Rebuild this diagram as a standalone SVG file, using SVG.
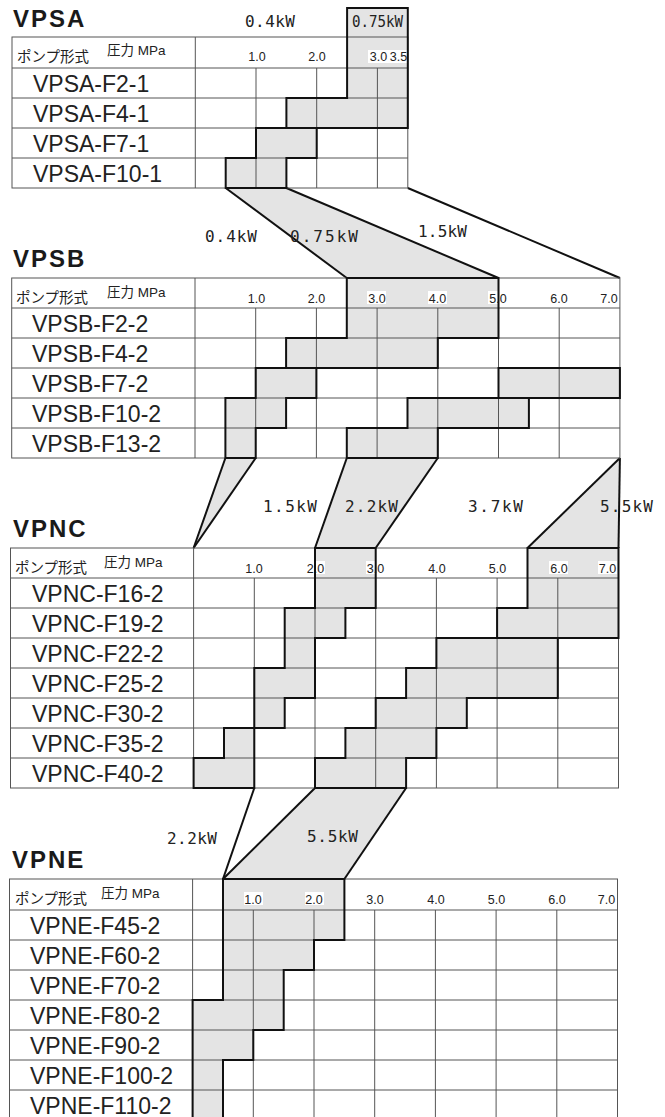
<svg xmlns="http://www.w3.org/2000/svg" width="665" height="1117" viewBox="0 0 665 1117">
<style>
.bg{fill:#ffffff}
.shade{fill:#e4e4e4;stroke:none}
.grid{stroke:#555;stroke-width:1;fill:none}
.thick{stroke:#111;stroke-width:2;fill:none;stroke-linejoin:miter}
.wb{fill:#ffffff}
.title{font-family:"Liberation Sans",Arial,sans-serif;font-weight:bold;font-size:24px;letter-spacing:2px;fill:#1a1a1a}
.row{font-family:"Liberation Sans",Arial,sans-serif;font-size:23px;fill:#222}
.hd{font-family:"Noto Sans CJK JP",sans-serif;font-size:14.5px;fill:#222}
.mpa{font-family:"Liberation Sans","Noto Sans CJK JP",sans-serif;font-size:13.5px;fill:#222}
.num{font-family:"Liberation Sans",Arial,sans-serif;font-size:12.5px;text-anchor:middle;fill:#222}
.kw{font-family:"DejaVu Sans Mono","Liberation Mono",monospace;font-size:16px;fill:#222}
</style>
<rect class="bg" x="0" y="0" width="665" height="1117"/>

<g id="connectors">
  <polygon class="shade" points="225.7,188 286.4,188 498.5,278 346.8,278"/>
  <polygon class="shade" points="225.4,458 255.7,458 193.6,548"/>
  <polygon class="shade" points="346.8,458 437.8,458 375.7,548 315,548"/>
  <polygon class="shade" points="619.9,458 618.5,548 527.5,548"/>
  <polygon class="shade" points="315,788 406.1,788 344.4,879 223,879"/>
  <g class="thick">
    <line x1="225.7" y1="188" x2="346.8" y2="278"/>
    <line x1="286.4" y1="188" x2="498.5" y2="278"/>
    <line x1="407.8" y1="188" x2="619.9" y2="278"/>
    <line x1="225.4" y1="458" x2="193.6" y2="548"/>
    <line x1="255.7" y1="458" x2="193.6" y2="548"/>
    <line x1="346.8" y1="458" x2="315" y2="548"/>
    <line x1="437.8" y1="458" x2="375.7" y2="548"/>
    <line x1="619.9" y1="458" x2="527.5" y2="548"/>
    <line x1="619.9" y1="458" x2="618.5" y2="548"/>
    <line x1="254.3" y1="788" x2="223" y2="879"/>
    <line x1="315" y1="788" x2="223" y2="879"/>
    <line x1="406.1" y1="788" x2="344.4" y2="879"/>
  </g>
</g>

<g id="vpsa">
  <path class="shade" d="M347.1,8 H407.8 V128 H286.4 V98 H347.1 Z"/>
  <path class="shade" d="M256,128 H316.7 V158 H286.4 V188 H225.7 V158 H256 Z"/>
  <rect class="grid" x="12" y="37" width="395.8" height="151"/>
  <path class="grid" d="M12,68 H407.8 M12,98 H407.8 M12,128 H407.8 M12,158 H407.8 M195.3,37 V188 M256,68 V188 M316.7,68 V188 M377.4,68 V188"/>
  <rect class="wb" x="247" y="50" width="19" height="13"/>
  <rect class="wb" x="307" y="50" width="19" height="13"/>
  <rect class="wb" x="368" y="50" width="39" height="13"/>
  <text class="num" x="257" y="61">1.0</text>
  <text class="num" x="317" y="61">2.0</text>
  <text class="num" x="378.5" y="61">3.0</text>
  <text class="num" x="398.5" y="61">3.5</text>
  <path class="thick" d="M347.1,8 H407.8 V128 H286.4 V98 H347.1 Z"/>
  <path class="thick" d="M256,128 H316.7 V158 H286.4 V188 H225.7 V158 H256 Z"/>
  <text class="title" x="13" y="27">VPSA</text>
  <text class="kw" x="245" y="27" textLength="50" lengthAdjust="spacing">0.4kW</text>
  <text class="kw" x="352" y="27" style="font-size:15px" textLength="51" lengthAdjust="spacingAndGlyphs">0.75kW</text>
  <text class="hd" x="17" y="62">ポンプ形式</text>
  <text class="mpa" x="107" y="55">圧力 MPa</text>
  <text class="row" x="33" y="91.5">VPSA-F2-1</text>
  <text class="row" x="33" y="121.5">VPSA-F4-1</text>
  <text class="row" x="33" y="151.5">VPSA-F7-1</text>
  <text class="row" x="33" y="181.5">VPSA-F10-1</text>
</g>

<g id="vpsb">
  <path class="shade" d="M346.8,278 H498.5 V338 H437.8 V368 H286.1 V338 H346.8 Z"/>
  <path class="shade" d="M255.7,368 H316.4 V398 H286.1 V428 H255.7 V458 H225.4 V398 H255.7 Z"/>
  <path class="shade" d="M498.5,368 H619.9 V398 H498.5 Z"/>
  <path class="shade" d="M407.5,398 H528.9 V428 H437.8 V458 H346.8 V428 H407.5 Z"/>
  <rect class="grid" x="11.7" y="278" width="608.2" height="180"/>
  <path class="grid" d="M11.7,308 H619.9 M11.7,338 H619.9 M11.7,368 H619.9 M11.7,398 H619.9 M11.7,428 H619.9 M195,278 V458 M255.7,308 V458 M316.4,308 V458 M377.1,308 V458 M437.8,308 V458 M498.5,308 V458 M559.2,308 V458"/>
  <rect class="wb" x="247" y="291" width="19" height="13"/>
  <rect class="wb" x="307" y="291" width="19" height="13"/>
  <rect class="wb" x="367" y="291" width="19" height="13"/>
  <rect class="wb" x="428" y="291" width="19" height="13"/>
  <rect class="wb" x="488" y="291" width="19" height="13"/>
  <rect class="wb" x="549" y="291" width="19" height="13"/>
  <rect class="wb" x="599" y="291" width="19" height="13"/>
  <text class="num" x="256.5" y="302.5">1.0</text>
  <text class="num" x="316.5" y="302.5">2.0</text>
  <text class="num" x="377" y="302.5">3.0</text>
  <text class="num" x="437.5" y="302.5">4.0</text>
  <text class="num" x="498" y="302.5">5.0</text>
  <text class="num" x="559" y="302.5">6.0</text>
  <text class="num" x="609" y="302.5">7.0</text>
  <path class="thick" d="M346.8,278 H498.5 V338 H437.8 V368 H286.1 V338 H346.8 Z"/>
  <path class="thick" d="M255.7,368 H316.4 V398 H286.1 V428 H255.7 V458 H225.4 V398 H255.7 Z"/>
  <path class="thick" d="M498.5,368 H619.9 V398 H498.5 Z"/>
  <path class="thick" d="M407.5,398 H528.9 V428 H437.8 V458 H346.8 V428 H407.5 Z"/>
  <text class="title" x="13" y="267">VPSB</text>
  <text class="kw" x="205" y="242" textLength="52" lengthAdjust="spacing">0.4kW</text>
  <text class="kw" x="290" y="242" textLength="68" lengthAdjust="spacing">0.75kW</text>
  <text class="kw" x="418" y="237" textLength="49" lengthAdjust="spacing">1.5kW</text>
  <text class="hd" x="16" y="303">ポンプ形式</text>
  <text class="mpa" x="107" y="296.5">圧力 MPa</text>
  <text class="row" x="32" y="331.5">VPSB-F2-2</text>
  <text class="row" x="32" y="361.5">VPSB-F4-2</text>
  <text class="row" x="32" y="391.5">VPSB-F7-2</text>
  <text class="row" x="32" y="421.5">VPSB-F10-2</text>
  <text class="row" x="32" y="451.5">VPSB-F13-2</text>
</g>

<g id="vpnc">
  <path class="shade" d="M315,548 H375.7 V608 H345.4 V638 H315 V698 H284.7 V728 H254.3 V668 H284.7 V608 H315 Z"/>
  <path class="shade" d="M224,728 H254.3 V788 H193.6 V758 H224 Z"/>
  <path class="shade" d="M436.4,638 H557.8 V698 H466.8 V728 H436.4 V758 H406.1 V788 H315 V758 H345.4 V728 H375.7 V698 H406.1 V668 H436.4 Z"/>
  <path class="shade" d="M527.5,548 H618.5 V638 H497.1 V608 H527.5 Z"/>
  <rect class="grid" x="10.5" y="548" width="608" height="240"/>
  <path class="grid" d="M10.5,578 H618.5 M10.5,608 H618.5 M10.5,638 H618.5 M10.5,668 H618.5 M10.5,698 H618.5 M10.5,728 H618.5 M10.5,758 H618.5 M193.6,548 V788 M254.3,578 V788 M315,578 V788 M375.7,578 V788 M436.4,578 V788 M497.1,578 V788 M557.8,578 V788"/>
  <rect class="wb" x="245" y="561" width="19" height="13"/>
  <rect class="wb" x="306" y="561" width="19" height="13"/>
  <rect class="wb" x="366" y="561" width="19" height="13"/>
  <rect class="wb" x="427" y="561" width="19" height="13"/>
  <rect class="wb" x="488" y="561" width="19" height="13"/>
  <rect class="wb" x="549" y="561" width="19" height="13"/>
  <rect class="wb" x="598" y="561" width="19" height="13"/>
  <text class="num" x="254" y="573">1.0</text>
  <text class="num" x="315.5" y="573">2.0</text>
  <text class="num" x="375.5" y="573">3.0</text>
  <text class="num" x="437" y="573">4.0</text>
  <text class="num" x="497.5" y="573">5.0</text>
  <text class="num" x="559" y="573">6.0</text>
  <text class="num" x="607.5" y="573">7.0</text>
  <path class="thick" d="M315,548 H375.7 V608 H345.4 V638 H315 V698 H284.7 V728 H254.3 V668 H284.7 V608 H315 Z"/>
  <path class="thick" d="M224,728 H254.3 V788 H193.6 V758 H224 Z"/>
  <path class="thick" d="M436.4,638 H557.8 V698 H466.8 V728 H436.4 V758 H406.1 V788 H315 V758 H345.4 V728 H375.7 V698 H406.1 V668 H436.4 Z"/>
  <path class="thick" d="M527.5,548 H618.5 V638 H497.1 V608 H527.5 Z"/>
  <text class="title" x="13" y="537">VPNC</text>
  <text class="kw" x="263" y="512" textLength="54" lengthAdjust="spacing">1.5kW</text>
  <text class="kw" x="345" y="512" textLength="53" lengthAdjust="spacing">2.2kW</text>
  <text class="kw" x="468" y="512" textLength="55" lengthAdjust="spacing">3.7kW</text>
  <text class="kw" x="600" y="512" textLength="53" lengthAdjust="spacing">5.5kW</text>
  <text class="hd" x="15" y="573">ポンプ形式</text>
  <text class="mpa" x="104" y="566.5">圧力 MPa</text>
  <text class="row" x="32" y="601.5">VPNC-F16-2</text>
  <text class="row" x="32" y="631.5">VPNC-F19-2</text>
  <text class="row" x="32" y="661.5">VPNC-F22-2</text>
  <text class="row" x="32" y="691.5">VPNC-F25-2</text>
  <text class="row" x="32" y="721.5">VPNC-F30-2</text>
  <text class="row" x="32" y="751.5">VPNC-F35-2</text>
  <text class="row" x="32" y="781.5">VPNC-F40-2</text>
</g>

<g id="vpne">
  <path class="shade" d="M223,879 H344.4 V940 H314 V970 H283.7 V1030 H253.3 V1060 H223 V1120 H192.6 V1000 H223 Z"/>
  <rect class="grid" x="9.5" y="879" width="608" height="241"/>
  <path class="grid" d="M9.5,910 H617.5 M9.5,940 H617.5 M9.5,970 H617.5 M9.5,1000 H617.5 M9.5,1030 H617.5 M9.5,1060 H617.5 M9.5,1090 H617.5 M192.6,879 V1120 M253.3,910 V1120 M314,910 V1120 M374.7,910 V1120 M435.4,910 V1120 M496.1,910 V1120 M556.8,910 V1120"/>
  <rect class="wb" x="244" y="892" width="19" height="13"/>
  <rect class="wb" x="305" y="892" width="19" height="13"/>
  <rect class="wb" x="366" y="892" width="19" height="13"/>
  <rect class="wb" x="427" y="892" width="19" height="13"/>
  <rect class="wb" x="487" y="892" width="19" height="13"/>
  <rect class="wb" x="548" y="892" width="19" height="13"/>
  <rect class="wb" x="597" y="892" width="19" height="13"/>
  <text class="num" x="253" y="904">1.0</text>
  <text class="num" x="314" y="904">2.0</text>
  <text class="num" x="375" y="904">3.0</text>
  <text class="num" x="436" y="904">4.0</text>
  <text class="num" x="496.5" y="904">5.0</text>
  <text class="num" x="557" y="904">6.0</text>
  <text class="num" x="606.5" y="904">7.0</text>
  <path class="thick" d="M223,879 H344.4 V940 H314 V970 H283.7 V1030 H253.3 V1060 H223 V1120 H192.6 V1000 H223 Z"/>
  <text class="title" x="12" y="868">VPNE</text>
  <text class="kw" x="167" y="844" textLength="50" lengthAdjust="spacing">2.2kW</text>
  <text class="kw" x="307" y="842" textLength="51" lengthAdjust="spacing">5.5kW</text>
  <text class="hd" x="15" y="904">ポンプ形式</text>
  <text class="mpa" x="101" y="897.5">圧力 MPa</text>
  <text class="row" x="30" y="933.5">VPNE-F45-2</text>
  <text class="row" x="30" y="963.5">VPNE-F60-2</text>
  <text class="row" x="30" y="993.5">VPNE-F70-2</text>
  <text class="row" x="30" y="1023.5">VPNE-F80-2</text>
  <text class="row" x="30" y="1053.5">VPNE-F90-2</text>
  <text class="row" x="30" y="1083.5">VPNE-F100-2</text>
  <text class="row" x="30" y="1113.5">VPNE-F110-2</text>
</g>
</svg>
